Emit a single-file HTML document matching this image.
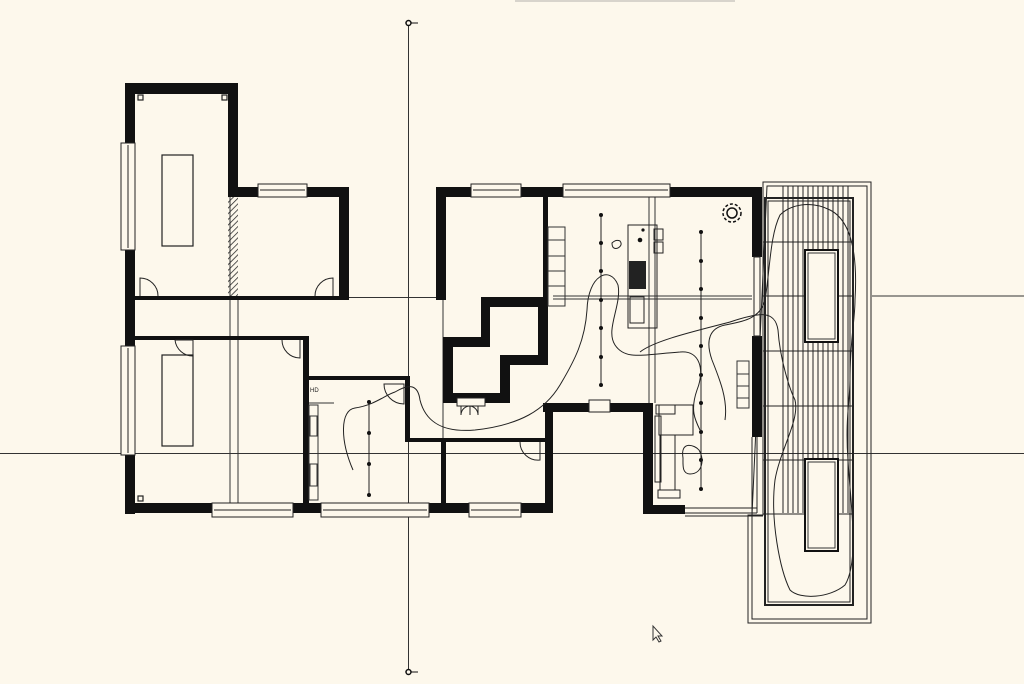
<!DOCTYPE html>
<html><head><meta charset="utf-8"><style>
html,body{margin:0;padding:0;background:#fdf8ec;}
svg{display:block;}
</style></head><body>
<svg width="1024" height="684" viewBox="0 0 1024 684" xmlns="http://www.w3.org/2000/svg">
<rect width="1024" height="684" fill="#fdf8ec"/>
<rect x="515" y="0" width="220" height="2" fill="#d8d4cc"/>
<defs>
<pattern id="hatch" width="4" height="4" patternUnits="userSpaceOnUse" patternTransform="rotate(45)">
<line x1="0" y1="0" x2="0" y2="4" stroke="#222" stroke-width="1.5"/>
</pattern>
</defs>
<g stroke="#333" stroke-width="1" fill="none">
<line x1="408.5" y1="23" x2="408.5" y2="672"/>
<line x1="0" y1="453.5" x2="1024" y2="453.5"/>
<line x1="349" y1="297.5" x2="436" y2="297.5"/>
<line x1="553" y1="296" x2="752" y2="296"/>
<line x1="553" y1="299" x2="752" y2="299"/>
<line x1="230" y1="197" x2="230" y2="516"/>
<line x1="238" y1="300" x2="238" y2="516"/>
<line x1="649" y1="190" x2="649" y2="403"/>
<line x1="655" y1="190" x2="655" y2="403"/>
<line x1="443" y1="300" x2="443" y2="505"/>
<line x1="872" y1="296" x2="1024" y2="296"/>
</g>
<circle cx="408.5" cy="23" r="2.5" fill="#fdf8ec" stroke="#111" stroke-width="1.5"/>
<line x1="411" y1="23" x2="418" y2="23" stroke="#111"/>
<circle cx="408.5" cy="672" r="2.5" fill="#fdf8ec" stroke="#111" stroke-width="1.5"/>
<line x1="411" y1="672" x2="418" y2="672" stroke="#111"/>

<g fill="none" stroke="#222" stroke-width="1">
<polygon points="763,182 871,182 871,623 748,623 748,515 763,515"/>
<polygon points="767,186 867,186 867,619 752,619 752,515"/>
<rect x="765" y="198" width="88" height="407" stroke-width="2"/>
<rect x="768" y="201" width="82" height="401"/>
</g>
<g stroke="#222" stroke-width="1">
<line x1="783" y1="186" x2="783" y2="513"/><line x1="788" y1="186" x2="788" y2="513"/>
<line x1="793" y1="186" x2="793" y2="513"/><line x1="798" y1="186" x2="798" y2="513"/>
<line x1="803" y1="186" x2="803" y2="513"/><line x1="808" y1="186" x2="808" y2="513"/>
<line x1="813" y1="186" x2="813" y2="513"/><line x1="818" y1="186" x2="818" y2="513"/>
<line x1="823" y1="186" x2="823" y2="513"/><line x1="828" y1="186" x2="828" y2="513"/>
<line x1="833" y1="186" x2="833" y2="513"/><line x1="838" y1="186" x2="838" y2="513"/>
<line x1="843" y1="186" x2="843" y2="513"/><line x1="848" y1="186" x2="848" y2="513"/>
<line x1="763" y1="242" x2="853" y2="242"/><line x1="763" y1="296" x2="853" y2="296"/>
<line x1="763" y1="351" x2="853" y2="351"/><line x1="763" y1="406" x2="853" y2="406"/>
<line x1="763" y1="460" x2="853" y2="460"/><line x1="763" y1="514" x2="853" y2="514"/>
</g>
<rect x="805" y="250" width="33" height="92" fill="#fdf8ec" stroke="#111" stroke-width="2"/>
<rect x="808" y="253" width="27" height="86" fill="none" stroke="#333" stroke-width="1"/>
<rect x="805" y="459" width="33" height="92" fill="#fdf8ec" stroke="#111" stroke-width="2"/>
<rect x="808" y="462" width="27" height="86" fill="none" stroke="#333" stroke-width="1"/>

<g fill="#111">
<rect x="125" y="83" width="113" height="11"/>
<rect x="125" y="83" width="10" height="431"/>
<rect x="228" y="83" width="10" height="114"/>
<rect x="228" y="187" width="121" height="10"/>
<rect x="339" y="187" width="10" height="113"/>
<rect x="135" y="296" width="208" height="4"/>
<rect x="135" y="336" width="172" height="4"/>
<rect x="303" y="336" width="6" height="170"/>
<rect x="125" y="503" width="428" height="10"/>
<rect x="305" y="376" width="105" height="4"/>
<rect x="405" y="376" width="5" height="66"/>
<rect x="405" y="438" width="143" height="4"/>
<rect x="441" y="440" width="5" height="66"/>
<rect x="436" y="187" width="10" height="113"/>
<rect x="436" y="187" width="326" height="10"/>
<rect x="543" y="197" width="5" height="100"/>
<path fill-rule="evenodd" d="M481,297 L548,297 L548,365 L510,365 L510,403 L443,403 L443,337 L481,337 Z M453,347 L490,347 L490,307 L538,307 L538,355 L500,355 L500,393 L453,393 Z"/>
<rect x="543" y="403" width="110" height="9"/>
<rect x="545" y="403" width="8" height="110"/>
<rect x="643" y="403" width="10" height="110"/>
<rect x="643" y="505" width="42" height="9"/>
<rect x="752" y="187" width="10" height="70"/>
<rect x="752" y="336" width="10" height="101"/>
</g>
<rect x="228" y="197" width="10" height="99" fill="url(#hatch)"/>
<line x1="757" y1="437" x2="757" y2="513" stroke="#222" stroke-width="1"/>
<line x1="752" y1="437" x2="752" y2="513" stroke="#222" stroke-width="1"/>
<line x1="685" y1="508" x2="757" y2="508" stroke="#222"/>
<line x1="685" y1="513" x2="757" y2="513" stroke="#222"/>
<line x1="685" y1="516" x2="763" y2="516" stroke="#222"/>

<g fill="#fdf8ec" stroke="#222" stroke-width="1">
<rect x="258" y="184" width="49" height="13"/><line x1="260" y1="190" x2="305" y2="190"/>
<rect x="471" y="184" width="50" height="13"/><line x1="473" y1="190" x2="519" y2="190"/>
<rect x="563" y="184" width="107" height="13"/><line x1="565" y1="190" x2="668" y2="190"/>
<rect x="212" y="503" width="81" height="14"/><line x1="214" y1="510" x2="291" y2="510"/>
<rect x="321" y="503" width="108" height="14"/><line x1="323" y1="510" x2="427" y2="510"/>
<rect x="469" y="503" width="52" height="14"/><line x1="471" y1="510" x2="519" y2="510"/>
<rect x="121" y="143" width="14" height="107"/><line x1="128" y1="145" x2="128" y2="248"/>
<rect x="121" y="346" width="14" height="109"/><line x1="128" y1="348" x2="128" y2="453"/>
<rect x="589" y="400" width="21" height="12"/>
<rect x="754" y="257" width="6" height="79"/>
<rect x="457" y="398" width="28" height="8"/>
</g>

<g fill="none" stroke="#222" stroke-width="1">
<path d="M140,296 L140,278 A18,18 0 0 1 158,296"/>
<path d="M333,296 L333,278 A18,18 0 0 0 315,296"/>
<path d="M175,340 L193,340 L193,356 A18,18 0 0 1 175,340"/>
<path d="M300,340 L300,358 A18,18 0 0 1 282,340"/>
<path d="M404,384 L404,404 A20,20 0 0 1 384,384 Z"/>
<path d="M540,442 L540,460 A18,18 0 0 1 520,442"/>
<path d="M461,406 L461,415 M478,406 L478,415 M461,415 A9,9 0 0 1 470,406 M478,415 A9,9 0 0 0 470,406 M470,406 L470,415"/>
</g>

<g fill="none" stroke="#222" stroke-width="1.2">
<rect x="162" y="155" width="31" height="91"/>
<rect x="162" y="355" width="31" height="91"/>
<rect x="138" y="95" width="5" height="5"/><rect x="222" y="95" width="5" height="5"/>
<rect x="138" y="496" width="5" height="5"/>
</g>

<g fill="none" stroke="#333" stroke-width="1">
<line x1="309" y1="403" x2="334" y2="403"/>
<rect x="309" y="405" width="9" height="95"/>
<rect x="310" y="416" width="7" height="20"/><rect x="310" y="464" width="7" height="22"/>
</g>
<text x="310" y="392" font-family="Liberation Sans, sans-serif" font-size="6" fill="#222">HD</text>

<g fill="none" stroke="#333" stroke-width="1">
<rect x="548" y="227" width="17" height="13"/><rect x="548" y="240" width="17" height="16"/>
<rect x="548" y="256" width="17" height="15"/><rect x="548" y="271" width="17" height="15"/>
<rect x="548" y="286" width="17" height="20"/>
<rect x="737" y="361" width="12" height="13"/><rect x="737" y="374" width="12" height="12"/>
<rect x="737" y="386" width="12" height="12"/><rect x="737" y="398" width="12" height="10"/>
</g>

<g fill="none" stroke="#222" stroke-width="1">
<rect x="628" y="225" width="29" height="103"/>
<rect x="654" y="229" width="9" height="11"/><rect x="654" y="242" width="9" height="11"/>
<rect x="630" y="297" width="14" height="26"/>
<path d="M612,243 q4,-4 8,-2 q3,4 -2,7 q-6,2 -6,-5z"/>
</g>
<rect x="629" y="261" width="17" height="28" fill="#222"/>
<circle cx="643" cy="230" r="1.6" fill="#111"/><circle cx="640" cy="240" r="2.3" fill="#111"/>
<g fill="none" stroke="#111" stroke-width="1.5">
<circle cx="732" cy="213" r="9" stroke-dasharray="3 2"/>
<circle cx="732" cy="213" r="5"/>
</g>

<g fill="none" stroke="#222" stroke-width="1">
<rect x="656" y="405" width="19" height="9"/>
<rect x="659" y="405" width="34" height="30"/>
<rect x="655" y="416" width="6" height="66"/>
<rect x="660" y="435" width="15" height="55"/>
<rect x="658" y="490" width="22" height="8"/>
</g>

<g stroke="#222" stroke-width="1">
<line x1="601" y1="215" x2="601" y2="385"/>
<line x1="701" y1="232" x2="701" y2="490"/>
<line x1="369" y1="402" x2="369" y2="496"/>
</g>
<g fill="#111">
<circle cx="601" cy="215" r="2"/><circle cx="601" cy="243" r="2"/><circle cx="601" cy="271" r="2"/><circle cx="601" cy="300" r="2"/><circle cx="601" cy="328" r="2"/><circle cx="601" cy="357" r="2"/><circle cx="601" cy="385" r="2"/>
<circle cx="701" cy="232" r="2"/><circle cx="701" cy="261" r="2"/><circle cx="701" cy="289" r="2"/><circle cx="701" cy="318" r="2"/><circle cx="701" cy="346" r="2"/><circle cx="701" cy="375" r="2"/><circle cx="701" cy="403" r="2"/><circle cx="701" cy="432" r="2"/><circle cx="701" cy="460" r="2"/><circle cx="701" cy="489" r="2"/>
<circle cx="369" cy="402" r="2"/><circle cx="369" cy="433" r="2"/><circle cx="369" cy="464" r="2"/><circle cx="369" cy="495" r="2"/>
</g>

<g fill="none" stroke="#222" stroke-width="1">
<path d="M353,470 C340,440 340,410 355,408 C375,405 385,395 395,392 C410,383 418,385 420,400 C425,420 440,433 475,430 C520,425 545,410 560,385 C575,360 585,340 587,310 C588,275 610,265 618,285 C622,305 605,330 615,345 C625,360 640,355 680,352 C700,350 705,370 697,390 C690,410 695,420 700,430"/>
<path d="M640,352 C655,340 700,330 730,322 C760,312 775,310 778,330 C780,360 790,390 795,400 C800,420 780,450 775,480 C770,520 780,570 790,590 C800,600 830,598 845,585 C860,560 850,500 848,460 C845,420 850,400 850,380 C850,340 855,320 855,300 C858,250 850,220 830,210 C810,200 790,205 780,215 C770,235 770,270 765,300 C760,320 740,322 725,325 C710,328 705,340 712,360 C720,380 728,400 725,420"/>
<path d="M683,458 C680,440 695,445 699,450 C705,460 702,474 690,474 C682,474 683,465 683,458z"/>
</g>

<path d="M653,626 L653,640 L656,637 L659,642 L661,641 L658,636 L662,636 Z" fill="#fdf8ec" stroke="#333" stroke-width="1"/>
</svg>
</body></html>
